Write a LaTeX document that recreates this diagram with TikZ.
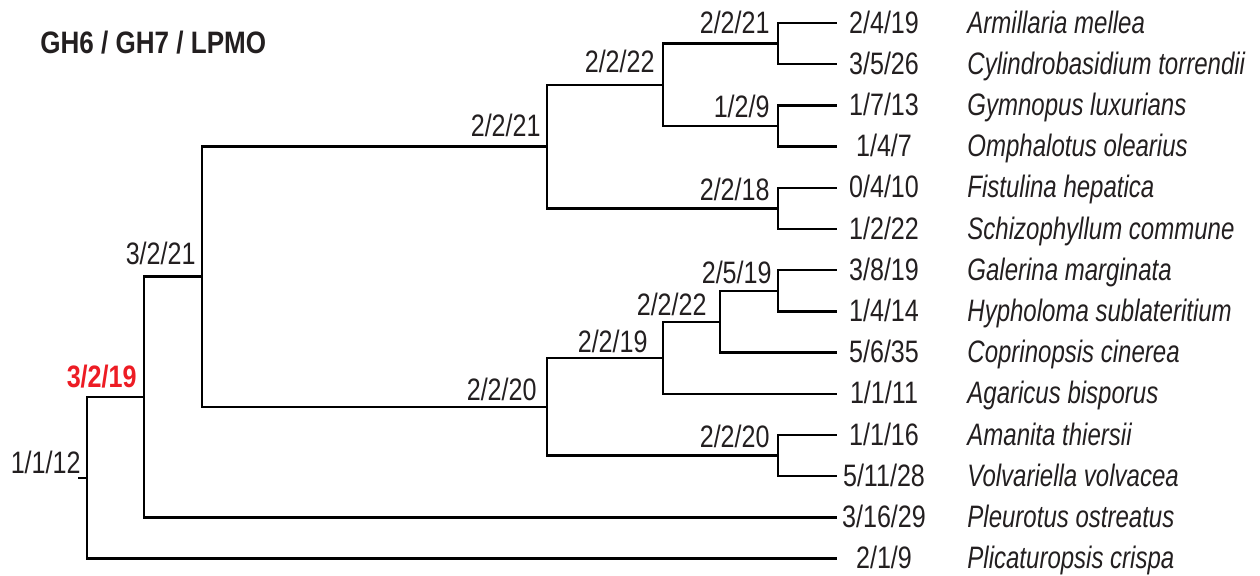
\documentclass[tikz,border=0pt]{standalone}
\usepackage{fontspec}
\setmainfont{Liberation Sans}
\newfontfamily\numfont[FakeStretch=0.81]{Liberation Sans}
\newfontfamily\spfont[FakeStretch=0.775]{Liberation Sans}
\newfontfamily\boldfont[FakeStretch=0.84]{Liberation Sans}
\newfontfamily\redfont[FakeStretch=0.81]{Liberation Sans}
\definecolor{ink}{HTML}{231F20}
\definecolor{redlab}{HTML}{ED1C24}
\tikzset{
  branch/.style={draw=black, line width=1.2pt, line cap=rect},
  lab/.style={inner sep=0pt, text=ink, font=\numfont\fontsize{15.5}{18}\selectfont, anchor=base east},
  tiplab/.style={inner sep=0pt, text=ink, font=\numfont\fontsize{15.5}{18}\selectfont, anchor=base},
  sp/.style={inner sep=0pt, text=ink, font=\spfont\itshape\fontsize{15.5}{18}\selectfont, anchor=base west},
  redl/.style={inner sep=0pt, text=redlab, font=\redfont\bfseries\fontsize{15.5}{18}\selectfont, anchor=base east},
  ttl/.style={inner sep=0pt, text=ink, font=\boldfont\bfseries\fontsize{15.5}{18}\selectfont, anchor=base west}
}
\begin{document}
\begin{tikzpicture}[x=0.5pt, y=-0.5pt]
\useasboundingbox (0,0) rectangle (1260,575);
% leaf tips
\coordinate (t1) at (836,23);
\coordinate (t2) at (836,64.2);
\coordinate (t3) at (836,105.4);
\coordinate (t4) at (836,146.6);
\coordinate (t5) at (836,187.8);
\coordinate (t6) at (836,229);
\coordinate (t7) at (836,270.2);
\coordinate (t8) at (836,311.4);
\coordinate (t9) at (836,352.6);
\coordinate (t10) at (836,393.8);
\coordinate (t11) at (836,435);
\coordinate (t12) at (836,476.2);
\coordinate (t13) at (836,517.4);
\coordinate (t14) at (836,558.6);
% internal nodes
\coordinate (G) at (778,43.6);
\coordinate (H) at (778,126);
\coordinate (E) at (663,84.8);
\coordinate (F) at (778,208.4);
\coordinate (C) at (547,146.6);
\coordinate (L) at (778,290.8);
\coordinate (K) at (720,321.7);
\coordinate (I) at (663,357.75);
\coordinate (J) at (778,455.6);
\coordinate (D) at (547,406.7);
\coordinate (B) at (202,276.6);
\coordinate (A) at (144,397);
\coordinate (R) at (87,477.8);
\coordinate (R0) at (79,477.8);
% branches
\draw[branch] (R0) -- (R);
\draw[branch] (R) |- (A);
\draw[branch] (R) |- (t14);
\draw[branch] (A) |- (B);
\draw[branch] (A) |- (t13);
\draw[branch] (B) |- (C);
\draw[branch] (B) |- (D);
\draw[branch] (C) |- (E);
\draw[branch] (C) |- (F);
\draw[branch] (E) |- (G);
\draw[branch] (E) |- (H);
\draw[branch] (G) |- (t1);
\draw[branch] (G) |- (t2);
\draw[branch] (H) |- (t3);
\draw[branch] (H) |- (t4);
\draw[branch] (F) |- (t5);
\draw[branch] (F) |- (t6);
\draw[branch] (D) |- (I);
\draw[branch] (D) |- (J);
\draw[branch] (I) |- (K);
\draw[branch] (I) |- (t10);
\draw[branch] (K) |- (L);
\draw[branch] (K) |- (t9);
\draw[branch] (L) |- (t7);
\draw[branch] (L) |- (t8);
\draw[branch] (J) |- (t11);
\draw[branch] (J) |- (t12);
% title
\node[ttl] (title) at (40,53) {GH6 / GH7 / LPMO};
% internal labels
\node[lab] (lG) at (770,33) {2/2/21};
\node[lab] (lE) at (655,72) {2/2/22};
\node[lab] (lH) at (770,117) {1/2/9};
\node[lab] (lF) at (770,200) {2/2/18};
\node[lab] (lC) at (541,136) {2/2/21};
\node[lab] (lB) at (196,264) {3/2/21};
\node[lab] (lL) at (772,283) {2/5/19};
\node[lab] (lK) at (707,315) {2/2/22};
\node[lab] (lI) at (648,352) {2/2/19};
\node[lab] (lD) at (537,400) {2/2/20};
\node[lab] (lJ) at (770,447) {2/2/20};
\node[redl] (lA) at (137,387) {3/2/19};
\node[lab] (lR) at (81,473) {1/1/12};
% tip numbers
\node[tiplab] (n1) at (884,33) {2/4/19};
\node[tiplab] (n2) at (884,74.2) {3/5/26};
\node[tiplab] (n3) at (884,115.4) {1/7/13};
\node[tiplab] (n4) at (884,156.6) {1/4/7};
\node[tiplab] (n5) at (884,197.8) {0/4/10};
\node[tiplab] (n6) at (884,239) {1/2/22};
\node[tiplab] (n7) at (884,280.2) {3/8/19};
\node[tiplab] (n8) at (884,321.4) {1/4/14};
\node[tiplab] (n9) at (884,362.6) {5/6/35};
\node[tiplab] (n10) at (884,403.8) {1/1/11};
\node[tiplab] (n11) at (884,445) {1/1/16};
\node[tiplab] (n12) at (884,486.2) {5/11/28};
\node[tiplab] (n13) at (884,527.4) {3/16/29};
\node[tiplab] (n14) at (884,568.6) {2/1/9};
% species
\node[sp] (s1) at (967,33) {Armillaria mellea};
\node[sp] (s2) at (967,74.2) {Cylindrobasidium torrendii};
\node[sp] (s3) at (967,115.4) {Gymnopus luxurians};
\node[sp] (s4) at (967,156.6) {Omphalotus olearius};
\node[sp] (s5) at (967,197.8) {Fistulina hepatica};
\node[sp] (s6) at (967,239) {Schizophyllum commune};
\node[sp] (s7) at (967,280.2) {Galerina marginata};
\node[sp] (s8) at (967,321.4) {Hypholoma sublateritium};
\node[sp] (s9) at (967,362.6) {Coprinopsis cinerea};
\node[sp] (s10) at (967,403.8) {Agaricus bisporus};
\node[sp] (s11) at (967,445) {Amanita thiersii};
\node[sp] (s12) at (967,486.2) {Volvariella volvacea};
\node[sp] (s13) at (967,527.4) {Pleurotus ostreatus};
\node[sp] (s14) at (967,568.6) {Plicaturopsis crispa};
\end{tikzpicture}
\end{document}
